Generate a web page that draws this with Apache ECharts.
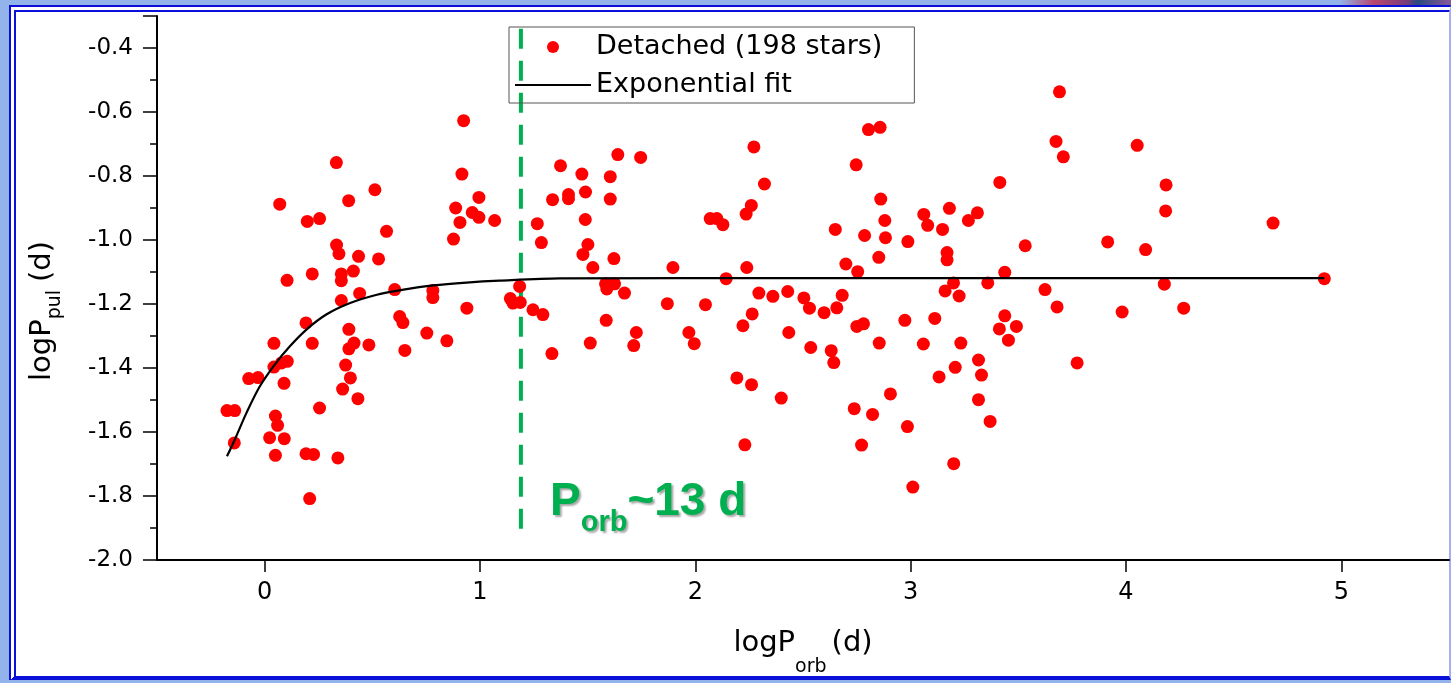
<!DOCTYPE html>
<html>
<head>
<meta charset="utf-8">
<script src="https://cdn.jsdelivr.net/npm/echarts@6/dist/echarts.min.js"></script>
<style>
  html, body { margin: 0; padding: 0; }
  body { width: 1451px; height: 683px; background: #92b4ea; position: relative; overflow: hidden; }
  #band { position: absolute; left: 1340px; top: 0; width: 111px; height: 6px;
          background: linear-gradient(to right, #92b4ea, #b84870 30%, #7a3a78 60%, #2a4a80 70%, #8a5a9a); }
  #frame { position: absolute; left: 9px; top: 5px; width: 1442px; height: 675px; box-sizing: border-box;
           background: #fff; border-left: 7px double #0b10d8; border-top: 7px double #0b10d8;
           border-bottom: 4px solid #0b10d8; border-right: 2px solid #a9aef2; }
  #chart { position: absolute; left: 0; top: 0; width: 1451px; height: 683px; }
</style>
</head>
<body>
<div id="band"></div>
<div id="frame"></div>
<div id="chart"></div>
<script>
// logP_orb, logP_pul of the detached stars
var detachedStars = [
  [0.333, -0.758], [0.070, -0.888], [0.512, -0.843], [0.390, -0.877], [0.198, -0.942],
  [0.255, -0.933], [0.566, -0.973], [0.916, -0.794], [0.995, -0.867], [0.887, -0.900],
  [0.964, -0.914], [0.995, -0.929], [1.068, -0.939], [0.907, -0.945], [0.877, -0.997],
  [0.334, -1.016], [0.345, -1.043], [0.436, -1.051], [0.529, -1.059], [0.104, -1.126],
  [0.221, -1.106], [0.356, -1.106], [0.356, -1.127], [0.412, -1.097], [0.441, -1.167],
  [0.356, -1.189], [0.604, -1.155], [0.781, -1.158], [0.781, -1.180], [0.939, -1.213],
  [0.192, -1.259], [0.391, -1.279], [0.627, -1.239], [0.642, -1.258], [0.043, -1.323],
  [0.221, -1.323], [0.415, -1.322], [0.391, -1.340], [0.484, -1.328], [0.753, -1.291],
  [0.846, -1.315], [0.651, -1.345], [0.043, -1.397], [0.078, -1.384], [0.105, -1.379],
  [-0.074, -1.433], [-0.031, -1.430], [0.090, -1.448], [0.376, -1.391], [0.398, -1.431],
  [0.362, -1.466], [0.433, -1.496], [-0.175, -1.533], [-0.139, -1.533], [0.255, -1.525],
  [0.050, -1.550], [0.060, -1.579], [0.023, -1.618], [0.091, -1.621], [-0.141, -1.634],
  [0.050, -1.673], [0.192, -1.668], [0.227, -1.670], [0.340, -1.681], [0.209, -1.808],
  [0.924, -0.627],
  [1.374, -0.768], [1.473, -0.794], [1.640, -0.733], [1.746, -0.742], [1.605, -0.802],
  [1.337, -0.874], [1.411, -0.858], [1.411, -0.871], [1.490, -0.850], [1.605, -0.872],
  [1.266, -0.949], [1.489, -0.936], [1.285, -1.008], [1.501, -1.014], [1.478, -1.045],
  [1.622, -1.058], [1.524, -1.086], [1.896, -1.086], [2.272, -0.709], [2.321, -0.825],
  [2.260, -0.892], [2.236, -0.919], [2.069, -0.933], [2.100, -0.933], [2.128, -0.952],
  [2.239, -1.086], [2.143, -1.121], [1.184, -1.145], [1.141, -1.183], [1.153, -1.197],
  [1.187, -1.195], [1.246, -1.218], [1.292, -1.233], [1.583, -1.137], [1.589, -1.153],
  [1.625, -1.137], [1.671, -1.166], [1.870, -1.199], [2.047, -1.202], [2.295, -1.166],
  [2.360, -1.176], [2.429, -1.161], [2.264, -1.231], [2.221, -1.268], [2.434, -1.289],
  [1.586, -1.251], [1.726, -1.289], [1.714, -1.330], [1.512, -1.322], [1.334, -1.355],
  [1.970, -1.289], [1.995, -1.324], [2.193, -1.431], [2.261, -1.452], [2.399, -1.494],
  [2.230, -1.640],
  [3.691, -0.537], [3.675, -0.692], [3.709, -0.740], [2.804, -0.655], [2.858, -0.648],
  [2.747, -0.765], [3.414, -0.820], [2.861, -0.872], [2.880, -0.939], [2.650, -0.967],
  [2.786, -0.986], [2.883, -0.993], [2.987, -1.005], [3.061, -0.920], [3.079, -0.954],
  [3.180, -0.901], [3.148, -0.967], [3.268, -0.939], [3.310, -0.915], [3.532, -1.018],
  [2.852, -1.054], [3.169, -1.039], [3.169, -1.062], [2.699, -1.075], [2.754, -1.099],
  [3.437, -1.101], [2.504, -1.181], [2.530, -1.213], [2.598, -1.227], [2.657, -1.212],
  [2.682, -1.173], [3.199, -1.134], [3.160, -1.159], [3.225, -1.175], [3.358, -1.134],
  [3.624, -1.155], [3.680, -1.209], [2.750, -1.270], [2.781, -1.262], [2.973, -1.251],
  [3.112, -1.245], [3.437, -1.237], [3.491, -1.270], [3.412, -1.278], [3.454, -1.313],
  [2.536, -1.336], [2.631, -1.346], [2.643, -1.383], [2.854, -1.322], [3.059, -1.325],
  [3.233, -1.322], [3.315, -1.375], [3.329, -1.422], [3.207, -1.398], [3.132, -1.428],
  [3.773, -1.384], [2.906, -1.481], [2.738, -1.527], [2.823, -1.545], [2.985, -1.583],
  [3.315, -1.499], [3.369, -1.567], [2.772, -1.641], [3.200, -1.699], [3.010, -1.772],
  [4.052, -0.704], [4.186, -0.828], [4.184, -0.909], [4.683, -0.947], [3.915, -1.006],
  [4.091, -1.030], [4.921, -1.121], [4.178, -1.138], [3.982, -1.225], [4.268, -1.213]
];

// exponential fit curve
var fitCurve = [
  [-0.175, -1.676], [-0.139, -1.624], [-0.085, -1.541], [-0.023, -1.458], [0.046, -1.390],
  [0.116, -1.333], [0.194, -1.280], [0.286, -1.233], [0.397, -1.197], [0.521, -1.171],
  [0.645, -1.155], [0.782, -1.142], [0.937, -1.133], [1.091, -1.127], [1.370, -1.120],
  [2.500, -1.119], [4.921, -1.119]
];

// P_orb ~ 13 d marker
var cutoffLine = [[1.19, -0.34], [1.19, -1.94]];

var xTickValues = [0, 1, 2, 3, 4, 5];

var FONT = "'DejaVu Sans', sans-serif";
var BOLD = "'Liberation Sans', Arial, sans-serif";

var chart = echarts.init(document.getElementById("chart"));
chart.setOption({
  animation: false,
  grid: { left: 157, top: 16, width: 1292, height: 544, containLabel: false },
  legend: {
    orient: "vertical",
    left: 509,
    top: 27,
    padding: [5, 32, 3, 5],
    itemGap: 8,
    itemWidth: 76,
    itemHeight: 12,
    borderColor: "#555",
    borderWidth: 1,
    backgroundColor: "transparent",
    textStyle: { color: "#000", fontSize: 27, fontFamily: FONT, lineHeight: 30 },
    data: [
      { name: "Detached (198 stars)", icon: "circle" },
      { name: "Exponential fit", itemStyle: { opacity: 0 }, lineStyle: { color: "#000", width: 2 } }
    ]
  },
  xAxis: {
    type: "value",
    min: -0.5,
    max: 5.5,
    name: "{m|logP}{s|orb}{m|(d)}",
    nameLocation: "middle",
    nameGap: 69,
    nameTextStyle: {
      rich: {
        m: { fontSize: 29, lineHeight: 29, fontFamily: FONT, color: "#000" },
        s: { fontSize: 19, lineHeight: 19, fontFamily: FONT, color: "#000", padding: [47, 5, 0, 0] }
      }
    },
    axisLine: { onZero: false, lineStyle: { color: "#000", width: 2 } },
    axisTick: { show: true, inside: false, length: 12, customValues: xTickValues,
                lineStyle: { color: "#000", width: 1.5 } },
    axisLabel: { customValues: xTickValues, margin: 21, color: "#000", fontSize: 24, fontFamily: FONT },
    splitLine: { show: false }
  },
  yAxis: {
    type: "value",
    min: -2.0,
    max: -0.3,
    interval: 0.2,
    name: "{m|logP}{s|pul}{m|(d)}",
    nameLocation: "middle",
    nameGap: 100,
    nameTextStyle: {
      padding: [0, 46, 0, 0],
      rich: {
        m: { fontSize: 29, lineHeight: 29, fontFamily: FONT, color: "#000" },
        s: { fontSize: 19, lineHeight: 19, fontFamily: FONT, color: "#000", padding: [25, 8, 0, 0] }
      }
    },
    axisLine: { onZero: false, lineStyle: { color: "#000", width: 2 } },
    axisTick: { show: true, inside: false, length: 14, lineStyle: { color: "#000", width: 1.5 } },
    minorTick: { show: true, splitNumber: 2, length: 7, lineStyle: { color: "#000", width: 1.5 } },
    axisLabel: {
      margin: 24, color: "#000", fontSize: 23, fontFamily: FONT, showMaxLabel: false,
      formatter: function (v) { return v.toFixed(1); }
    },
    splitLine: { show: false },
    minorSplitLine: { show: false }
  },
  series: [
    {
      name: "cutoff",
      type: "line",
      data: cutoffLine,
      showSymbol: false,
      silent: true,
      lineStyle: { color: "#00b050", width: 4, type: [20, 12] },
      z: 1
    },
    {
      name: "Detached (198 stars)",
      type: "scatter",
      data: detachedStars,
      symbol: "circle",
      symbolSize: 13,
      itemStyle: { color: "#ff0000", opacity: 1 },
      z: 2
    },
    {
      name: "Exponential fit",
      type: "line",
      data: fitCurve,
      smooth: 0.3,
      showSymbol: false,
      symbol: "none",
      lineStyle: { color: "#000", width: 2.2 },
      itemStyle: { color: "#000" },
      z: 3
    }
  ],
  graphic: [
    {
      type: "text",
      left: 550,
      top: 467,
      z: 10,
      style: {
        text: "{p|P}{s|orb}{p|~13 d}",
        rich: {
          p: { fontSize: 46, lineHeight: 46, fontWeight: "bold", fontFamily: BOLD, fill: "#00b050" },
          s: { fontSize: 29, lineHeight: 29, fontWeight: "bold", fontFamily: BOLD, fill: "#00b050",
               padding: [41, 0, 0, 0] }
        },
        textShadowColor: "rgba(0,0,0,0.35)",
        textShadowBlur: 2,
        textShadowOffsetX: 2,
        textShadowOffsetY: 2
      }
    }
  ]
});
</script>
</body>
</html>
